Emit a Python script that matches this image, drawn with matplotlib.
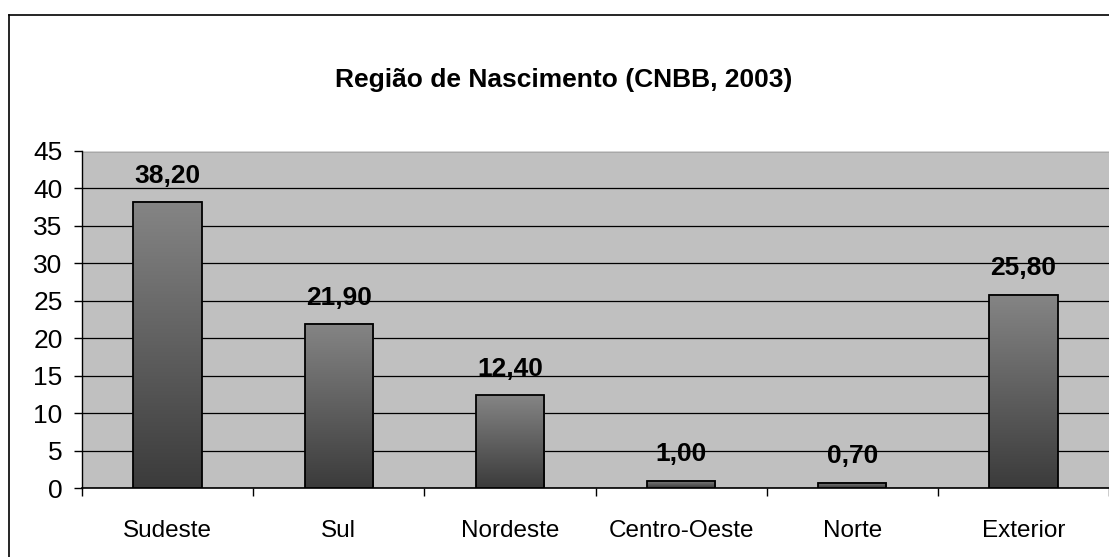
import numpy as np
import matplotlib
matplotlib.use("Agg")
import matplotlib.pyplot as plt
from matplotlib.colors import LinearSegmentedColormap
from matplotlib.lines import Line2D

# DATA
regioes = ["Sudeste", "Sul", "Nordeste", "Centro-Oeste", "Norte", "Exterior"]
valores = [38.20, 21.90, 12.40, 1.00, 0.70, 25.80]
rotulos = ["38,20", "21,90", "12,40", "1,00", "0,70", "25,80"]
titulo = "Região de Nascimento (CNBB, 2003)"

plt.rcParams['font.family'] = ['Liberation Sans', 'DejaVu Sans']

W, H = 1109, 557
fig = plt.figure(figsize=(W / 100, H / 100), dpi=100)
fig.patch.set_facecolor("white")

# outer chart border (crop of a bigger chart: only left and top visible)
fig.add_artist(Line2D([9 / W, 9 / W], [0, 1 - 15 / H], color="black", lw=1.2))
fig.add_artist(Line2D([9 / W, 1], [1 - 15 / H, 1 - 15 / H], color="black", lw=1.2))

ax = fig.add_axes([82 / W, (H - 488) / H, (W - 82) / W, (488 - 151) / H])
ax.set_facecolor("#c0c0c0")

n = len(regioes)
x = np.arange(n)
largura = 0.40
ax.set_xlim(-0.5, n - 0.5)
ax.set_ylim(0, 45)

# gradient bars
cmap = LinearSegmentedColormap.from_list("barra", ["#3b3b3b", "#858585"])
grad = np.linspace(0, 1, 256).reshape(-1, 1)
for xi, v in zip(x, valores):
    ax.imshow(grad, extent=[xi - largura / 2, xi + largura / 2, 0, v],
              origin="lower", aspect="auto", cmap=cmap, zorder=3)
ax.bar(x, valores, width=largura, facecolor="none", edgecolor="black",
       linewidth=1.3, zorder=4)

for xi, v, r in zip(x, valores, rotulos):
    ax.annotate(r, (xi, v), xytext=(0, 19), textcoords="offset points",
                ha="center", va="center", fontsize=19, fontweight="bold",
                zorder=5)

# grid
ax.set_yticks(np.arange(0, 46, 5))
ax.yaxis.grid(True, color="black", linewidth=0.9)
ax.set_axisbelow(True)
ax.tick_params(axis="y", direction="out", length=6, width=1, labelsize=19, pad=8)

# x ticks: marks on boundaries, labels centred
ax.set_xticks(np.arange(-0.5, n, 1.0))
ax.set_xticklabels([])
ax.tick_params(axis="x", which="major", direction="out", length=6, width=1)
ax.set_xticks(x, minor=True)
ax.set_xticklabels(regioes, minor=True)
ax.tick_params(axis="x", which="minor", length=0, labelsize=17.5, pad=23)

for s in ["top", "right"]:
    ax.spines[s].set_visible(False)
ax.spines["left"].set_linewidth(1)
ax.spines["bottom"].set_linewidth(1.2)
ax.axhline(45, color="#d4d4d4", lw=1.5, zorder=1)

fig.text(564 / W, 1 - 80 / H, titulo, ha="center", va="center",
         fontsize=19, fontweight="bold")

fig.savefig("out.png", dpi=100)
